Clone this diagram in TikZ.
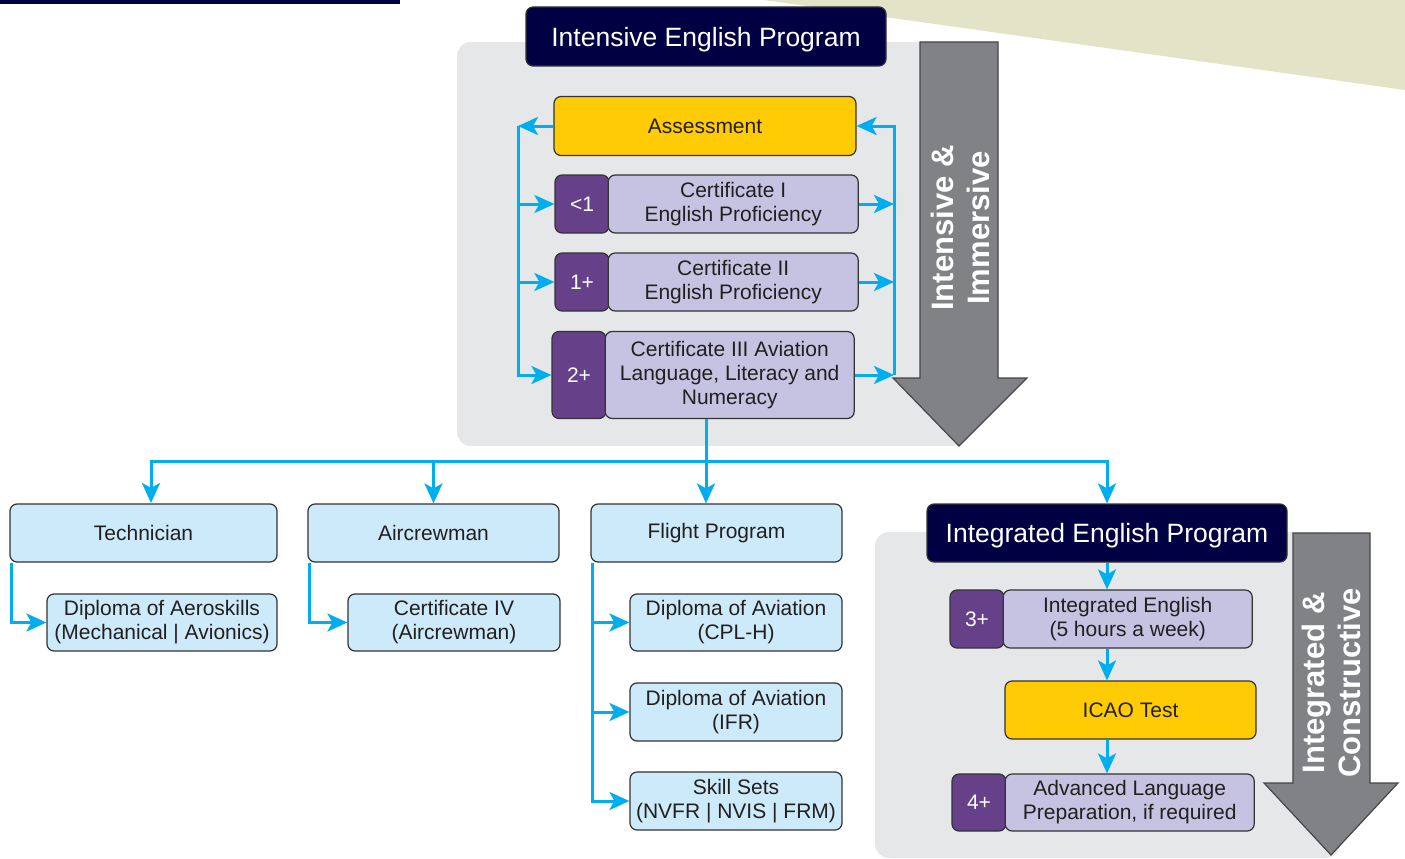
\documentclass[tikz,border=0pt]{standalone}
\usepackage{fontspec}
\setmainfont{Liberation Sans}
\usetikzlibrary{arrows.meta, positioning}

\definecolor{navy}{RGB}{0,0,66}
\definecolor{khaki}{RGB}{227,227,199}
\definecolor{panel}{RGB}{230,231,232}
\definecolor{arrowgrey}{RGB}{128,130,133}
\definecolor{arrowedge}{RGB}{70,70,72}
\definecolor{gold}{RGB}{255,203,5}
\definecolor{plum}{RGB}{102,65,137}
\definecolor{lavender}{RGB}{197,195,225}
\definecolor{skyblue}{RGB}{204,234,249}
\definecolor{cyanline}{RGB}{0,174,239}
\definecolor{boxline}{RGB}{51,51,51}
\definecolor{ink}{RGB}{35,31,32}

\begin{document}
\begin{tikzpicture}[x=1pt, y=-1pt, >={Stealth[length=20pt, width=18pt, inset=5pt]},
	every node/.style={font=\fontsize{21}{24}\selectfont, align=center, inner sep=0pt, text=ink},
	box/.style={draw=boxline, line width=1.2pt, rounded corners=7pt, minimum height=58pt},
	header/.style={box, fill=navy, text=white, font=\fontsize{26.5}{30}\selectfont, text depth=0pt, minimum width=360pt, minimum height=59pt},
	level/.style={box, fill=lavender},
	num/.style={box, fill=plum, text=white, minimum width=54pt},
	test/.style={box, fill=gold},
	track/.style={box, fill=skyblue},
	bigarrow/.style={fill=arrowgrey, draw=arrowedge, line width=1.2pt},
	vlabel/.style={rotate=90, text=white, font=\bfseries\fontsize{31}{36}\selectfont},
	wire/.style={draw=cyanline, line width=3pt},
	link/.style={wire, ->}]

	\useasboundingbox (0,0) rectangle (1405,859);

	\fill [khaki] (764,0) -- (1405,0) -- (1405,90) -- cycle;
	\fill [navy] (0,0) rectangle (400,4);
	\fill [panel, rounded corners=14pt] (457,42) rectangle (965,446);
	\fill [panel, rounded corners=14pt] (875,532) rectangle (1340,858);

	\draw [bigarrow] (920,42) -- (998,42) -- (998,378) -- (1027,378) -- (959,446) -- (893,378) -- (920,378) -- cycle;
	\draw [bigarrow] (1293,533) -- (1370,533) -- (1370,783) -- (1398,783) -- (1331,855) -- (1264,783) -- (1293,783) -- cycle;
	\node [vlabel] (immersive) at (960,228) {Intensive \&\\Immersive};
	\node [vlabel] (constructive) at (1331,683) {Integrated \&\\Constructive};

	% intensive program
	\node [header] (intensive) at (706,36.5) {Intensive English Program};
	\node [test, minimum width=302pt, minimum height=59pt] (assess) at (705,126) {Assessment};
	\node [num] (n1) at (582,204) {<1};
	\node [level, minimum width=250pt, right=-2pt of n1] (cert1) {Certificate I\\English Proficiency};
	\node [num] (n2) at (582,282) {1+};
	\node [level, minimum width=250pt, right=-2pt of n2] (cert2) {Certificate II\\English Proficiency};
	\node [num, minimum height=87pt] (n3) at (579,375) {2+};
	\node [level, minimum width=249pt, minimum height=87pt, right=-2pt of n3] (cert3) {Certificate III Aviation\\Language, Literacy and\\Numeracy};

	\coordinate (lt) at (518,126);
	\coordinate (rb) at (894,375);
	\draw [link] (assess.west) -- (lt);
	\draw [link] (lt) |- (n3.west);
	\draw [link] (lt |- n1) -- (n1.west);
	\draw [link] (lt |- n2) -- (n2.west);
	\draw [link] (cert1.east) -- (rb |- cert1);
	\draw [link] (cert2.east) -- (rb |- cert2);
	\draw [link] (cert3.east) -- (rb);
	\draw [link] (rb) |- (assess.east);

	% streams
	\node [track, minimum width=267pt] (tech) at (143.5,533) {Technician};
	\node [track, minimum width=251pt] (air) at (433.5,533) {Aircrewman};
	\node [track, minimum width=251pt] (flight) at (716.5,533) {Flight Program};
	\node [track, minimum width=230pt, minimum height=57pt] (aero) at (162,622.5) {Diploma of Aeroskills\\(Mechanical | Avionics)};
	\node [track, minimum width=212pt, minimum height=57pt] (cert4) at (454,622.5) {Certificate IV\\(Aircrewman)};
	\node [track, minimum width=212pt, minimum height=57pt] (cplh) at (736,622.5) {Diploma of Aviation\\(CPL-H)};
	\node [track, minimum width=212pt] (ifr) at (736,712) {Diploma of Aviation\\(IFR)};
	\node [track, minimum width=212pt] (skill) at (736,801) {Skill Sets\\(NVFR | NVIS | FRM)};

	\coordinate (bus) at (706,461);
	\draw [link] (bus |- cert3.south) -- (bus |- flight.north);
	\draw [link] (bus) -| (151,503);
	\draw [link] (air.north |- bus) -- (air.north);

	\coordinate (fl) at ([xshift=2pt]flight.south west);
	\draw [link] ([xshift=2pt]tech.south west) |- (aero.west);
	\draw [link] ([xshift=2pt]air.south west) |- (cert4.west);
	\draw [link] (fl) |- (skill.west);
	\draw [link] (fl |- cplh) -- (cplh.west);
	\draw [link] (fl |- ifr) -- (ifr.west);

	% integrated program
	\node [header, minimum height=58pt] (integ) at (1107,533) {Integrated English Program};
	\node [num] (n4) at (977,619) {3+};
	\node [level, minimum width=249pt, right=-2pt of n4] (ie) {Integrated English\\(5 hours a week)};
	\node [test, minimum width=251pt] (icao) at (1130.5,710) {ICAO Test};
	\node [num, minimum height=57pt] (n5) at (979,802.5) {4+};
	\node [level, minimum width=249pt, minimum height=57pt, right=-2pt of n5] (adv) {Advanced Language\\Preparation, if required};

	\draw [link] (bus) -| (integ.north);
	\draw [link] (integ.south) -- (integ.south |- ie.north);
	\draw [link] (integ.south |- ie.south) -- (integ.south |- icao.north);
	\draw [link] (integ.south |- icao.south) -- (integ.south |- adv.north);

\end{tikzpicture}
\end{document}
